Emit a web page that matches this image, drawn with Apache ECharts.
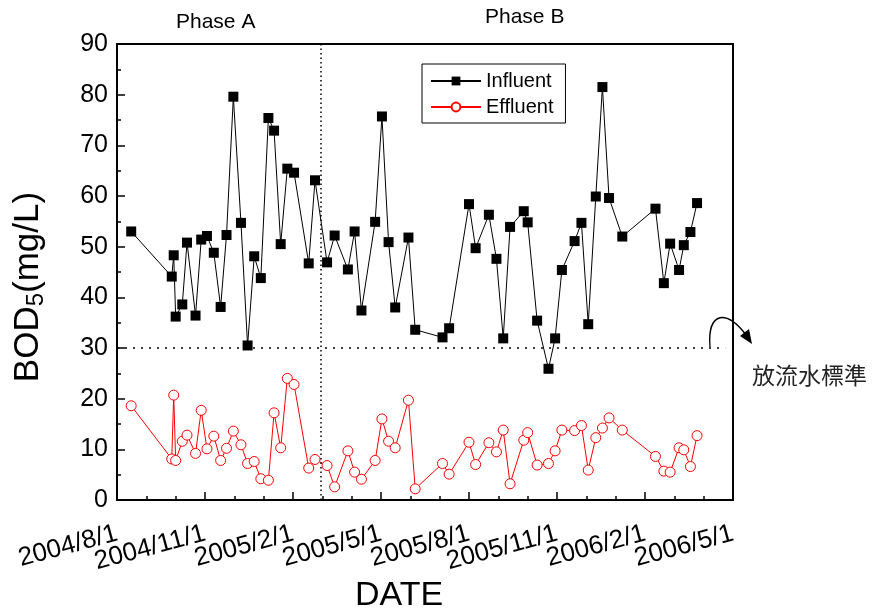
<!DOCTYPE html>
<html>
<head>
<meta charset="utf-8">
<script src="https://cdn.jsdelivr.net/npm/echarts@6/dist/echarts.min.js"></script>
<style>
html,body{margin:0;padding:0;background:#fff;}
#chart{width:874px;height:614px;}
</style>
</head>
<body>
<div id="chart"></div>
<script>
// ---- data ----
var dates = ['2004/8/16','2004/9/27','2004/9/29','2004/10/1','2004/10/8','2004/10/13','2004/10/22','2004/10/28','2004/11/3','2004/11/10','2004/11/17','2004/11/23','2004/11/30','2004/12/8','2004/12/15','2004/12/22','2004/12/29','2005/1/6','2005/1/12','2005/1/19','2005/1/26','2005/2/2','2005/2/16','2005/2/22','2005/3/6','2005/3/14','2005/3/28','2005/4/4','2005/4/11','2005/4/25','2005/5/2','2005/5/9','2005/5/16','2005/5/30','2005/6/6','2005/7/4','2005/7/11','2005/8/1','2005/8/8','2005/8/22','2005/8/30','2005/9/6','2005/9/13','2005/9/27','2005/10/1','2005/10/11','2005/10/23','2005/10/30','2005/11/6','2005/11/19','2005/11/26','2005/12/3','2005/12/11','2005/12/18','2005/12/25','2006/1/8','2006/2/11','2006/2/19','2006/2/25','2006/3/6','2006/3/11','2006/3/18','2006/3/25'];
var influent = [53.0,44.1,48.3,36.2,38.6,50.8,36.4,51.4,52.1,48.8,38.1,52.3,79.6,54.7,30.5,48.1,43.8,75.4,72.9,50.5,65.4,64.6,46.7,63.1,46.9,52.2,45.5,53.0,37.4,54.9,75.7,50.9,38.0,51.8,33.6,32.1,33.9,58.4,49.7,56.3,47.6,31.9,53.9,57.0,54.8,35.4,25.9,31.9,45.4,51.1,54.7,34.7,59.9,81.5,59.6,52.0,57.5,42.8,50.6,45.4,50.3,52.9,58.6];
var effluent = [18.6,8.1,20.7,7.8,11.6,12.8,9.2,17.7,10.1,12.6,7.8,10.2,13.6,10.9,7.2,7.6,4.2,3.9,17.2,10.3,24.0,22.8,6.3,8.0,6.8,2.6,9.7,5.5,4.1,7.8,16.0,11.6,10.3,19.7,2.2,7.2,5.1,11.4,7.0,11.3,9.5,13.8,3.2,11.8,13.3,6.9,7.2,9.7,13.8,13.7,14.7,5.9,12.3,14.2,16.2,13.8,8.6,5.7,5.5,10.3,9.9,6.6,12.7];
var xTickLabels = ['2004/8/1','2004/11/1','2005/2/1','2005/5/1','2005/8/1','2005/11/1','2006/2/1','2006/5/1'];
var yTicks = [0,10,20,30,40,50,60,70,80,90];
var standardLimit = 30;
var phaseDivide = '2005/2/27';
var standardLineEnd = '2006/4/23';

// month index since 2004/8/1 (fractional, by day of month)
function mIdx(s){
  var p = s.split('/').map(Number);
  var dim = new Date(Date.UTC(p[0], p[1], 0)).getUTCDate();
  return (p[0]-2004)*12 + (p[1]-8) + (p[2]-1)/dim;
}

var infData = dates.map(function(d,i){return [mIdx(d), influent[i]];});
var effData = dates.map(function(d,i){return [mIdx(d), effluent[i]];});
var nMonths = (xTickLabels.length - 1) * 3;
var monthCats = [];
for (var i = 0; i <= nMonths; i++) monthCats.push(i % 3 === 0 ? xTickLabels[i/3] : '');

var chart = echarts.init(document.getElementById('chart'), null, {renderer:'canvas'});
var FONT = 'Liberation Sans, Arial, sans-serif';

var option = {
  animation: false,
  backgroundColor: '#fff',
  grid: {left:117, right:141, top:44, bottom:114, show:true, borderColor:'#000', borderWidth:2, backgroundColor:'transparent'},
  legend: {
    left: 422, top: 64, orient: 'vertical',
    borderColor: '#000', borderWidth: 1, padding: [7, 12, 6, 8],
    itemWidth: 50, itemHeight: 11, itemGap: 6,
    textStyle: {fontFamily: FONT, fontSize: 20, color: '#000'},
    data: ['Influent','Effluent']
  },
  xAxis: [
    {
      type: 'value', min: 0, max: nMonths, interval: 3, position: 'bottom',
      splitLine: {show:false},
      axisLine: {show:true, onZero:false, lineStyle:{color:'#000', width:2}},
      axisTick: {show:true, inside:true, length:8, lineStyle:{color:'#000', width:1.5}},
      minorTick: {show:true, splitNumber:3, length:4, lineStyle:{color:'#000', width:1.5}},
      axisLabel: {show:false}
    },
    {
      type: 'category', data: monthCats, boundaryGap: false, position: 'bottom',
      axisLine: {show:false}, axisTick: {show:false}, splitLine: {show:false},
      axisLabel: {interval: 0, rotate: 15, margin: 33, fontFamily: FONT, fontSize: 26, color: '#000'}
    }
  ],
  yAxis: {
    type: 'value', min: yTicks[0], max: yTicks[yTicks.length-1], interval: 10,
    splitLine: {show:false},
    axisLine: {show:true, lineStyle:{color:'#000', width:2}},
    axisTick: {show:true, inside:true, length:8, lineStyle:{color:'#000', width:1.5}},
    minorTick: {show:true, splitNumber:2, length:4, lineStyle:{color:'#000', width:1.5}},
    axisLabel: {margin: 9, fontFamily: FONT, fontSize: 25, color: '#000', showMinLabel: true, showMaxLabel: true}
  },
  series: [
    {
      name: 'Influent', type: 'line', data: infData, xAxisIndex: 0,
      symbol: 'rect', symbolSize: 10, showAllSymbol: true,
      lineStyle: {color:'#000', width:1},
      itemStyle: {color:'#000'},
      z: 3,
      markLine: {
        silent: true, symbol: ['none','none'], label: {show:false},
        lineStyle: {color:'#000', width:1.5, type:[2,6]},
        data: [
          [{coord:[0, standardLimit]}, {coord:[mIdx(standardLineEnd), standardLimit]}]
        ]
      }
    },
    {
      name: 'Effluent', type: 'line', data: effData, xAxisIndex: 0,
      symbol: 'circle', symbolSize: 10, showAllSymbol: true,
      lineStyle: {color:'#ff0000', width:1},
      itemStyle: {color:'#fff', borderColor:'#ff0000', borderWidth:1},
      z: 2,
      markLine: {
        silent: true, symbol: ['none','none'], label: {show:false},
        lineStyle: {color:'#000', width:1.5, type:[1.5,3]},
        data: [ {xAxis: mIdx(phaseDivide)} ]
      }
    }
  ],
  graphic: [
    {type:'text', left:176, top:12, style:{text:'Phase A', font:'21px ' + FONT, fill:'#000'}},
    {type:'text', left:485, top:7, style:{text:'Phase B', font:'21px ' + FONT, fill:'#000'}},
    {type:'text', x: 399, y: 596, style:{text:'DATE', font:'34px ' + FONT, fill:'#000', align:'center', verticalAlign:'middle'}},
    {
      type:'text', x: 28, y: 287, rotation: Math.PI/2,
      style:{
        text:'{a|BOD}{b|5}{a|(mg/L)}', align:'center', verticalAlign:'middle', fill:'#000',
        rich:{
          a:{fontFamily:FONT, fontSize:35, fill:'#000'},
          b:{fontFamily:FONT, fontSize:24, fill:'#000', padding:[16,0,0,0]}
        }
      }
    },
    {type:'bezierCurve', shape:{x1:710, y1:347, cpx1:707, cpy1:310, cpx2:728, cpy2:310, x2:746, y2:335}, style:{stroke:'#000', lineWidth:1.3, fill:null}},
    {type:'polygon', shape:{points:[[752,344],[740,336],[749,329]]}, style:{fill:'#000'}},
    {type:'text', x: 752, y: 375, style:{text:'放流水標準', font:'23px "Noto Sans CJK TC", "Noto Sans CJK SC", sans-serif', fill:'#222', align:'left', verticalAlign:'middle'}}
  ]
};
chart.setOption(option);
</script>
</body>
</html>
